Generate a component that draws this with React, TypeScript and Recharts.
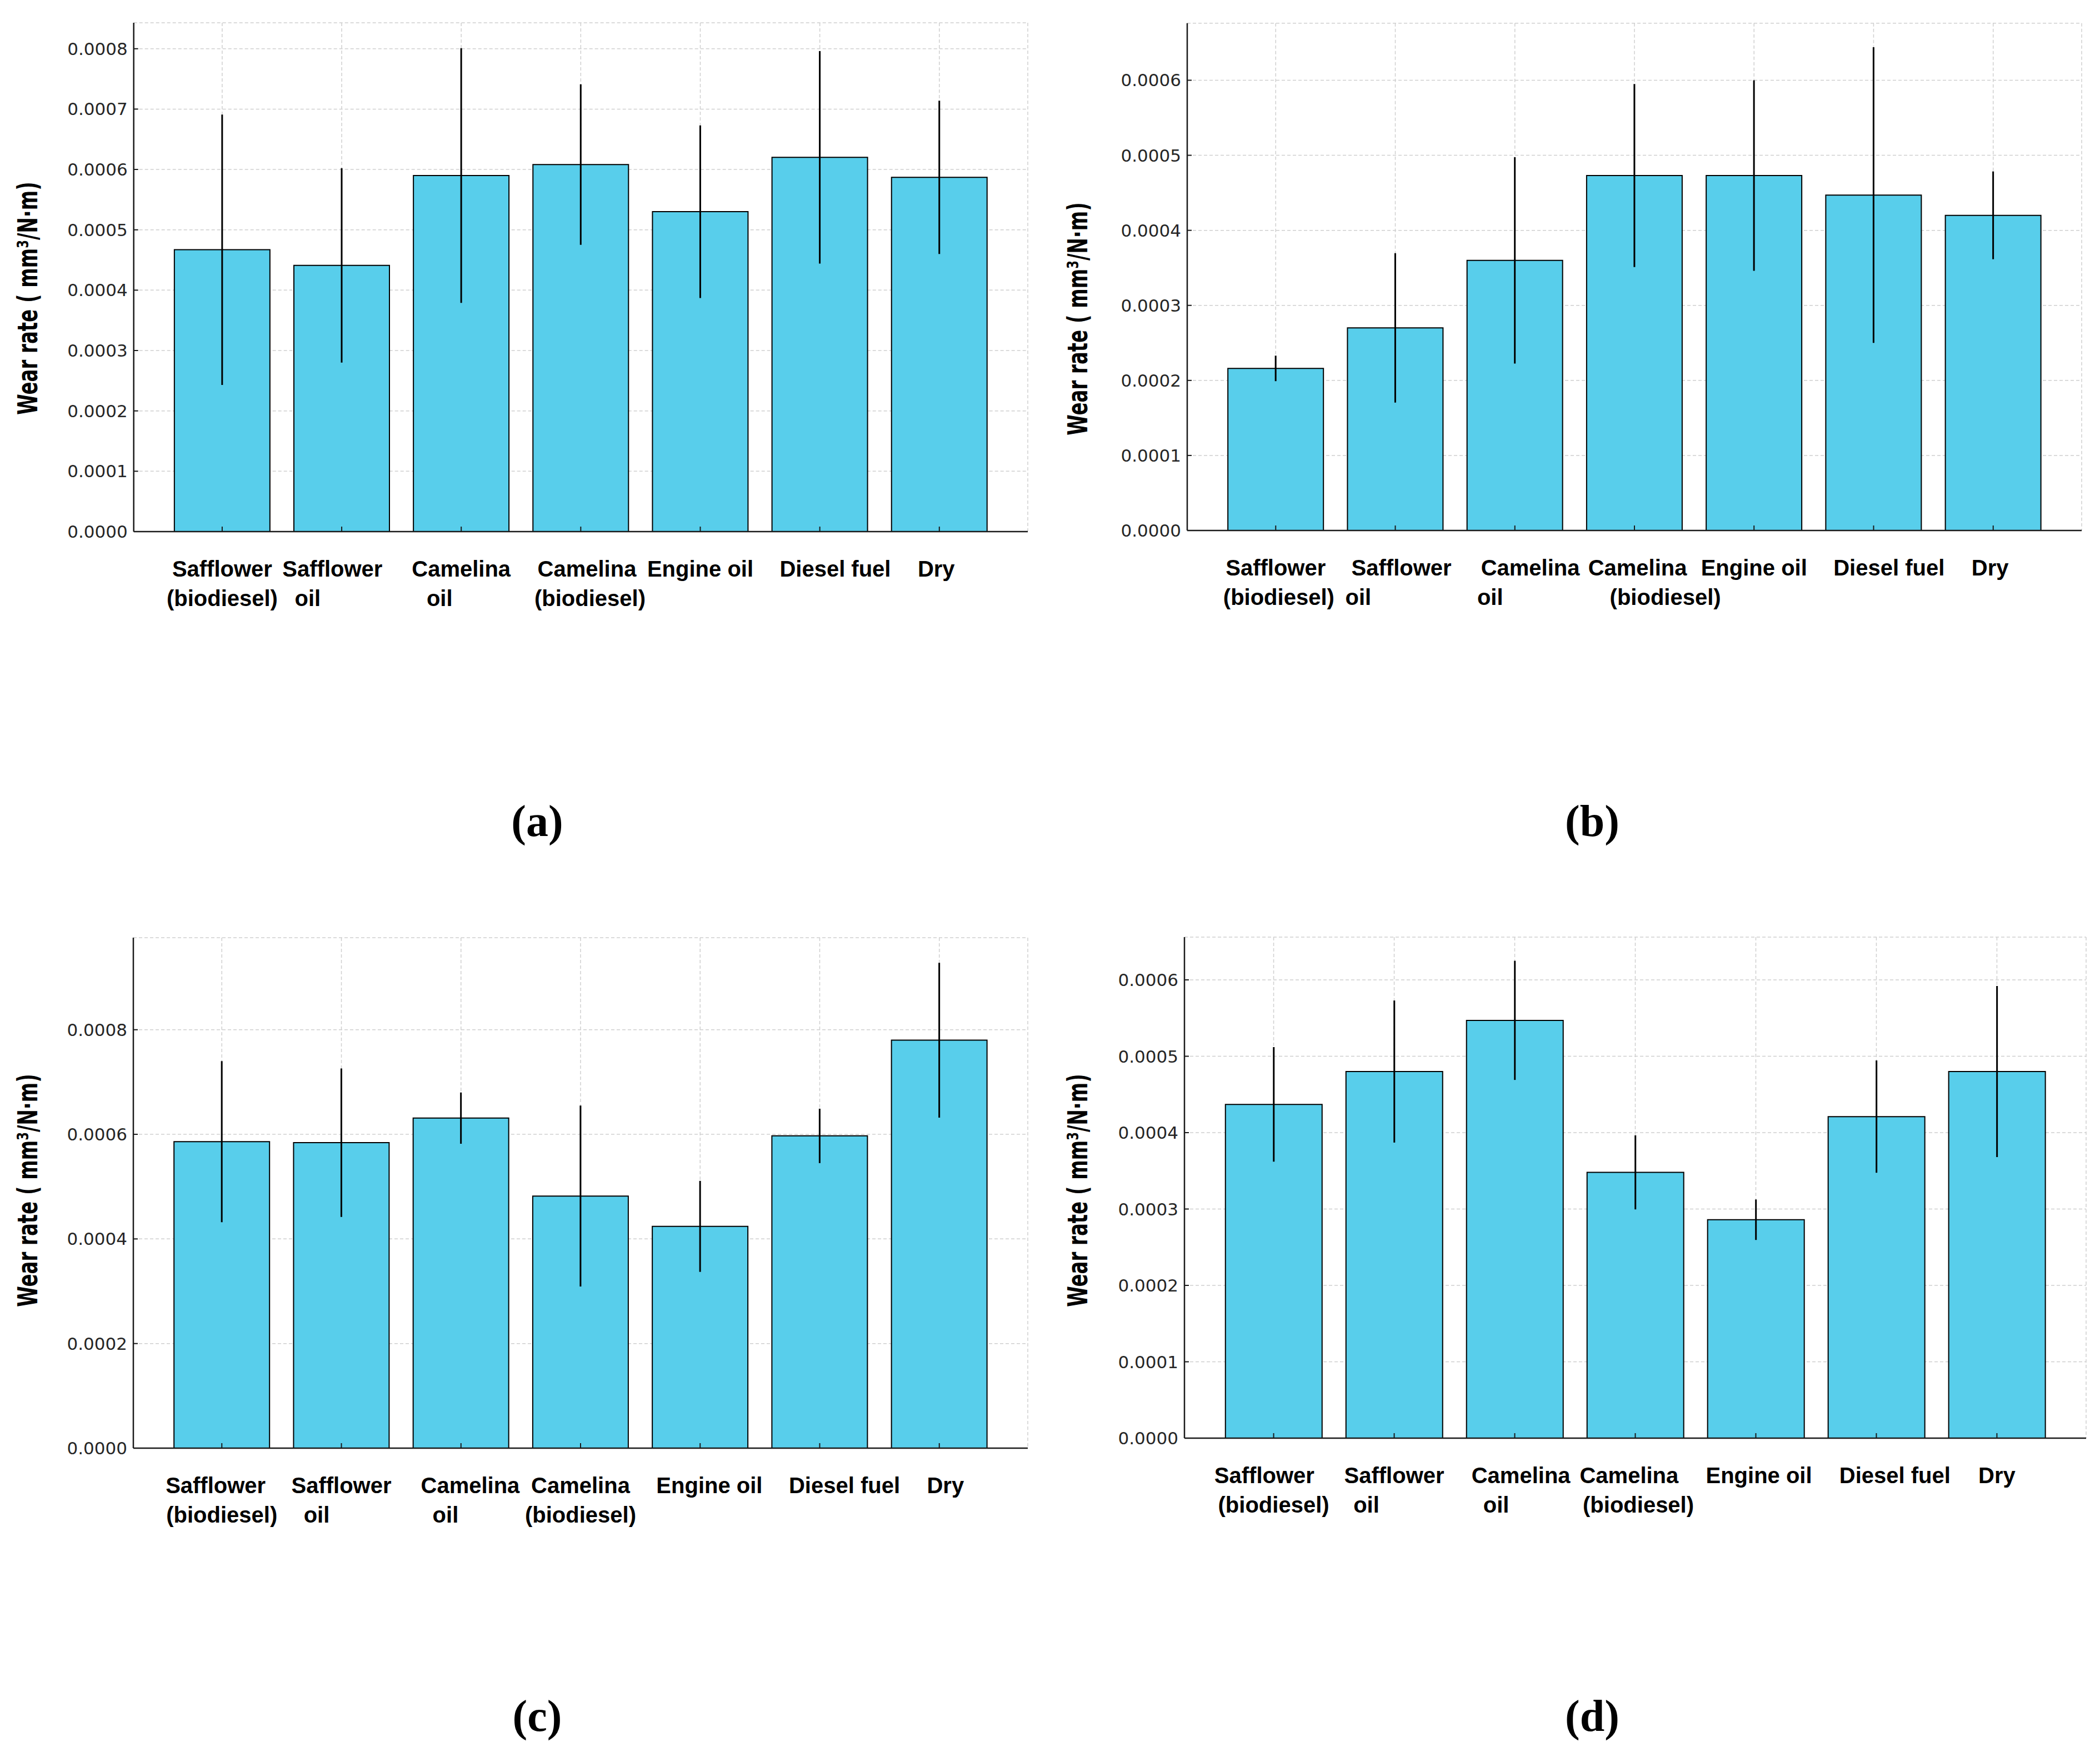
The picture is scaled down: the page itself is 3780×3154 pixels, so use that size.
import { Bar, BarChart, CartesianGrid, ErrorBar, XAxis, YAxis } from "recharts";

// categories shared by the four panels
const categories = [
  "Safflower (biodiesel)",
  "Safflower oil",
  "Camelina oil",
  "Camelina (biodiesel)",
  "Engine oil",
  "Diesel fuel",
  "Dry",
];

// (a)
const meansA = [0.000467, 0.000441, 0.00059, 0.000608, 0.00053, 0.00062, 0.000587];
const errsA = [0.000224, 0.000161, 0.000211, 0.000133, 0.000143, 0.000176, 0.000127];
const ticksA = [0, 0.0001, 0.0002, 0.0003, 0.0004, 0.0005, 0.0006, 0.0007, 0.0008];
const labelsA = [
  "Safflower\n(biodiesel)",
  "Safflower   \noil           ",
  "Camelina\noil       ",
  "  Camelina\n   (biodiesel)",
  "Engine oil",
  "     Diesel fuel",
  "Dry ",
];

// (b)
const meansB = [0.000216, 0.00027, 0.00036, 0.000473, 0.000473, 0.000447, 0.00042];
const errsB = [0.000017, 0.0000995, 0.0001375, 0.000122, 0.000127, 0.000197, 0.0000585];
const ticksB = [0, 0.0001, 0.0002, 0.0003, 0.0004, 0.0005, 0.0006];
const labelsB = [
  "Safflower\n (biodiesel)",
  "  Safflower\noil            ",
  "     Camelina\noil        ",
  " Camelina\n          (biodiesel)",
  "Engine oil",
  "     Diesel fuel",
  "Dry ",
];

// (c)
const meansC = [0.000586, 0.000584, 0.000631, 0.000482, 0.000424, 0.000597, 0.00078];
const errsC = [0.000154, 0.000142, 0.000049, 0.000173, 0.000087, 0.000052, 0.000148];
const ticksC = [0, 0.0002, 0.0004, 0.0006, 0.0008];
const labelsC = [
  "Safflower  \n(biodiesel)",
  "Safflower\noil        ",
  "   Camelina\noil     ",
  "Camelina\n(biodiesel)",
  "   Engine oil",
  "        Diesel fuel",
  "  Dry",
];

// (d)
const meansD = [0.000437, 0.00048, 0.000547, 0.000348, 0.000286, 0.000421, 0.00048];
const errsD = [0.000075, 0.000093, 0.000078, 0.0000485, 0.0000265, 0.0000735, 0.000112];
const ticksD = [0, 0.0001, 0.0002, 0.0003, 0.0004, 0.0005, 0.0006];
const labelsD = [
  "Safflower   \n(biodiesel)",
  "Safflower\noil         ",
  "  Camelina\noil      ",
  "Camelina  \n (biodiesel)",
  " Engine oil",
  "      Diesel fuel",
  "Dry",
];

const yTitle = "Wear rate ( mm³/N·m)";
const panelNames = ["(a)", "(b)", "(c)", "(d)"];

const BAR_FILL = "#58CEEB";
const INK = "#1a1a1a";
const LABEL_SIZE = 40;
const SPACE_W = LABEL_SIZE * 0.278;

// lines are centred like matplotlib's multi-line tick labels; padding spaces
// nudge a line sideways, so turn them into an offset instead of blank glyphs
function CategoryTick(props: any) {
  const { x, y, payload, labels } = props;
  const lines: string[] = labels[payload.index].split("\n");
  return (
    <text
      x={x}
      y={y}
      textAnchor="middle"
      fontFamily="'Liberation Sans', Arial, sans-serif"
      fontWeight="bold"
      fontSize={LABEL_SIZE}
      fill="#000"
    >
      {lines.map((line, i) => {
        const lead = line.length - line.trimStart().length;
        const trail = line.length - line.trimEnd().length;
        const dx = ((lead - trail) * SPACE_W) / 2;
        return (
          <tspan key={i} x={x + dx} y={y + 81 + i * 52.5}>
            {line.trim()}
          </tspan>
        );
      })}
    </text>
  );
}

interface Rect {
  l: number;
  t: number;
  r: number;
  b: number;
}

interface Box {
  x: number;
  y: number;
  w: number;
  h: number;
}

function Panel({
  rect,
  box,
  means,
  errs,
  ticks,
  yMax,
  labels,
}: {
  rect: Rect;
  box: Box;
  means: number[];
  errs: number[];
  ticks: number[];
  yMax: number;
  labels: string[];
}) {
  const data = categories.map((name, i) => ({ name, mean: means[i], err: errs[i] }));
  const band = (rect.r - rect.l) / 7.48;
  const pad = band * 0.24;
  const yAxisW = 100;
  const xAxisH = 150;
  const margin = {
    top: rect.t - box.y,
    left: rect.l - box.x - yAxisW,
    right: box.x + box.w - rect.r,
    bottom: box.y + box.h - rect.b - xAxisH,
  };
  return (
    <div style={{ position: "absolute", left: box.x, top: box.y }}>
      <BarChart width={box.w} height={box.h} data={data} margin={margin} barCategoryGap="10%">
        <CartesianGrid strokeDasharray="6 4" stroke="#cfcfcf" strokeWidth={1.5} />
        <XAxis
          dataKey="name"
          type="category"
          interval={0}
          height={xAxisH}
          padding={{ left: pad, right: pad }}
          axisLine={{ stroke: INK, strokeWidth: 2.5 }}
          tickLine={{ stroke: INK, strokeWidth: 2 }}
          tickSize={-9}
          tickMargin={9}
          tick={(p: any) => <CategoryTick {...p} labels={labels} />}
        />
        <YAxis
          type="number"
          width={yAxisW}
          domain={[0, yMax]}
          ticks={ticks}
          allowDataOverflow
          interval={0}
          axisLine={{ stroke: INK, strokeWidth: 2.5 }}
          tickLine={{ stroke: INK, strokeWidth: 2 }}
          tickSize={-8}
          tickMargin={19}
          tickFormatter={(v: number) => v.toFixed(4)}
          tick={{ fontFamily: "'DejaVu Sans', sans-serif", fontSize: 31, fill: "#262626" }}
        />
        <Bar dataKey="mean" fill={BAR_FILL} stroke="#000" strokeWidth={2} isAnimationActive={false}>
          <ErrorBar dataKey="err" width={0} stroke="#000" strokeWidth={3} direction="y" />
        </Bar>
      </BarChart>
    </div>
  );
}

function YTitle({ x, y }: { x: number; y: number }) {
  return (
    <text
      transform={`translate(${x},${y}) rotate(-90) scale(1,1.45)`}
      textAnchor="middle"
      fontFamily="'DejaVu Sans', sans-serif"
      fontWeight="bold"
      fontSize={34}
      fill="#000"
    >
      {yTitle}
    </text>
  );
}

function PanelName({ x, y, text }: { x: number; y: number; text: string }) {
  return (
    <text
      x={x}
      y={y}
      textAnchor="middle"
      fontFamily="'Liberation Serif', 'DejaVu Serif', serif"
      fontWeight="bold"
      fontSize={80}
      fill="#000"
    >
      {text}
    </text>
  );
}

export default function App() {
  return (
    <div
      style={{
        position: "absolute",
        left: 0,
        top: 0,
        width: 3780,
        height: 3154,
        background: "#fff",
        overflow: "hidden",
      }}
    >
      <Panel
        rect={{ l: 240.7, t: 41, r: 1850, b: 957 }}
        box={{ x: 0, y: 0, w: 1890, h: 1300 }}
        means={meansA}
        errs={errsA}
        ticks={ticksA}
        yMax={0.000843}
        labels={labelsA}
      />
      <Panel
        rect={{ l: 2137, t: 41.8, r: 3747, b: 955 }}
        box={{ x: 1890, y: 0, w: 1890, h: 1300 }}
        means={meansB}
        errs={errsB}
        ticks={ticksB}
        yMax={0.000676}
        labels={labelsB}
      />
      <Panel
        rect={{ l: 240, t: 1688, r: 1850, b: 2607 }}
        box={{ x: 0, y: 1600, w: 1890, h: 1300 }}
        means={meansC}
        errs={errsC}
        ticks={ticksC}
        yMax={0.000976}
        labels={labelsC}
      />
      <Panel
        rect={{ l: 2132, t: 1687, r: 3755, b: 2589 }}
        box={{ x: 1890, y: 1600, w: 1890, h: 1300 }}
        means={meansD}
        errs={errsD}
        ticks={ticksD}
        yMax={0.000656}
        labels={labelsD}
      />
      <svg
        width={3780}
        height={3154}
        style={{ position: "absolute", left: 0, top: 0, pointerEvents: "none" }}
      >
        <YTitle x={67} y={537} />
        <YTitle x={1957} y={574} />
        <YTitle x={67} y={2143} />
        <YTitle x={1957} y={2143} />
        <PanelName x={967} y={1505} text={panelNames[0]} />
        <PanelName x={2866} y={1505} text={panelNames[1]} />
        <PanelName x={967} y={3116} text={panelNames[2]} />
        <PanelName x={2866} y={3116} text={panelNames[3]} />
      </svg>
    </div>
  );
}
